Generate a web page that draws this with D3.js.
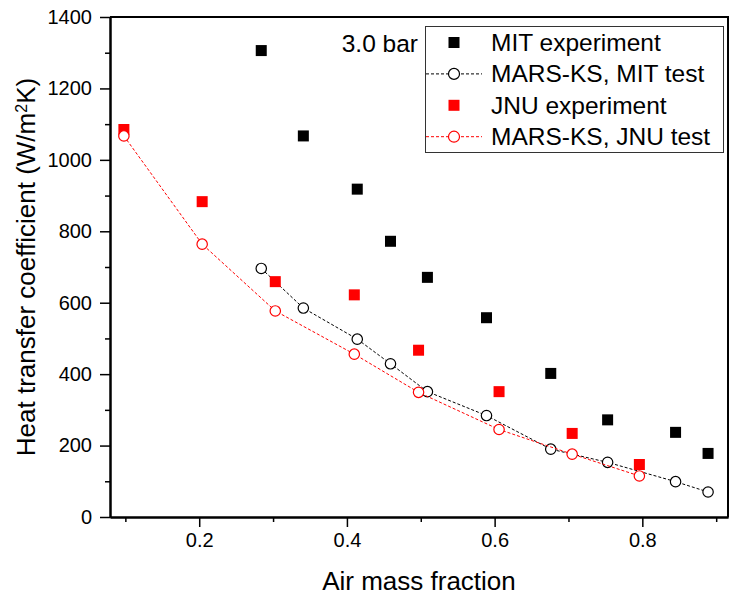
<!DOCTYPE html>
<html>
<head>
<meta charset="utf-8">
<script src="https://cdn.jsdelivr.net/npm/d3@7"></script>
<style>
  body { margin: 0; background: #fff; }
  svg { display: block; font-family: "Liberation Sans", Arial, sans-serif; }
</style>
</head>
<body>
<svg id="chart" width="731" height="600"></svg>
<script>
// MIT test points
const mitX = [0.284, 0.341, 0.414, 0.459, 0.509, 0.589, 0.676, 0.753, 0.845, 0.889];
const mitExp = [1306, 1067, 918, 772, 671, 558, 402, 272, 237, 178];
const mitMars = [696, 585, 498, 429, 351, 284, 190, 153, 99, 70];

// JNU test points
const jnuX = [0.098, 0.204, 0.303, 0.410, 0.497, 0.606, 0.705, 0.796];
const jnuExp = [1085, 883, 659, 622, 467, 351, 234, 147];
const jnuMars = [1067, 764, 577, 456, 349, 245, 176, 115];

const xMajor = [0.2, 0.4, 0.6, 0.8];
const xMinor = [0.1, 0.3, 0.5, 0.7, 0.9];
const yMajor = [0, 200, 400, 600, 800, 1000, 1200, 1400];
const yMinor = [100, 300, 500, 700, 900, 1100, 1300];

const legendLabels = ["MIT experiment", "MARS-KS, MIT test", "JNU experiment", "MARS-KS, JNU test"];

const svg = d3.select("#chart");

const x = d3.scaleLinear().domain([0.0792, 0.916]).range([110, 728]);
const y = d3.scaleLinear().domain([0, 1400]).range([517, 17]);

// frame (top and right edges)
svg.append("path")
  .attr("d", `M${x.range()[0]},${y(1400)}H${x.range()[1]}V${y(0)}`)
  .attr("fill", "none")
  .attr("stroke", "#000")
  .attr("stroke-width", 2);

// axes
function styleAxis(g) {
  g.attr("font-family", null).attr("font-size", null);
  g.select(".domain").attr("stroke-width", 2);
  g.selectAll(".tick line").attr("stroke-width", 1.5);
  g.selectAll("text").attr("fill", "#000").style("font-size", "20px");
}

svg.append("g")
  .attr("transform", `translate(0,${y(0)})`)
  .call(d3.axisBottom(x).tickValues(xMinor).tickSize(5).tickSizeOuter(0).tickFormat(""))
  .call(styleAxis);
svg.append("g")
  .attr("transform", `translate(0,${y(0)})`)
  .call(d3.axisBottom(x).tickValues(xMajor).tickSize(10).tickSizeOuter(0).tickPadding(6).tickFormat(d3.format(".1f")))
  .call(styleAxis);

svg.append("g")
  .attr("transform", `translate(${x.range()[0]},0)`)
  .call(d3.axisLeft(y).tickValues(yMinor).tickSize(5).tickSizeOuter(0).tickFormat(""))
  .call(styleAxis);
svg.append("g")
  .attr("transform", `translate(${x.range()[0]},0)`)
  .call(d3.axisLeft(y).tickValues(yMajor).tickSize(10).tickSizeOuter(0).tickPadding(8).tickFormat(d3.format("d")))
  .call(styleAxis);

// axis titles
svg.append("text")
  .attr("x", (x.range()[0] + x.range()[1]) / 2)
  .attr("y", 590)
  .attr("text-anchor", "middle")
  .style("font-size", "26px")
  .text("Air mass fraction");

const yTitle = svg.append("text")
  .attr("transform", `translate(35,${(y(0) + y(1400)) / 2}) rotate(-90)`)
  .attr("text-anchor", "middle")
  .style("font-size", "26px");
yTitle.append("tspan").text("Heat transfer coefficient (W/m");
yTitle.append("tspan").attr("baseline-shift", "super").style("font-size", "16px").text("2");
yTitle.append("tspan").text("K)");

// series
const line = d3.line().x(d => x(d[0])).y(d => y(d[1]));

function drawLine(xs, ys, color) {
  svg.append("path")
    .datum(d3.zip(xs, ys))
    .attr("d", line)
    .attr("fill", "none")
    .attr("stroke", color)
    .attr("stroke-width", 1)
    .attr("stroke-dasharray", "3,2");
}

function drawSquares(xs, ys, color) {
  svg.append("g").selectAll("rect")
    .data(d3.zip(xs, ys))
    .join("rect")
    .attr("x", d => x(d[0]) - 5.5)
    .attr("y", d => y(d[1]) - 5.5)
    .attr("width", 11)
    .attr("height", 11)
    .attr("fill", color);
}

function drawCircles(xs, ys, color) {
  svg.append("g").selectAll("circle")
    .data(d3.zip(xs, ys))
    .join("circle")
    .attr("cx", d => x(d[0]))
    .attr("cy", d => y(d[1]))
    .attr("r", 5.2)
    .attr("fill", "#fff")
    .attr("stroke", color)
    .attr("stroke-width", 1.2);
}

drawSquares(mitX, mitExp, "#000");
drawLine(mitX, mitMars, "#000");
drawCircles(mitX, mitMars, "#000");
drawSquares(jnuX, jnuExp, "#f00");
drawLine(jnuX, jnuMars, "#f00");
drawCircles(jnuX, jnuMars, "#f00");

// legend
const legend = svg.append("g");
legend.append("rect")
  .attr("x", 425.5).attr("y", 26.5)
  .attr("width", 298).attr("height", 126)
  .attr("fill", "#fff")
  .attr("stroke", "#333")
  .attr("stroke-width", 1);

const kinds = ["square", "circle", "square", "circle"];
const colors = ["#000", "#000", "#f00", "#f00"];
legendLabels.forEach((label, i) => {
  const cy = 42.5 + i * 31.4;
  const g = legend.append("g");
  if (kinds[i] === "circle") {
    g.append("line")
      .attr("x1", 426).attr("x2", 482)
      .attr("y1", cy).attr("y2", cy)
      .attr("stroke", colors[i])
      .attr("stroke-width", 1)
      .attr("stroke-dasharray", "3,2");
    g.append("circle")
      .attr("cx", 454).attr("cy", cy).attr("r", 5.5)
      .attr("fill", "#fff")
      .attr("stroke", colors[i])
      .attr("stroke-width", 1.2);
  } else {
    g.append("rect")
      .attr("x", 448.5).attr("y", cy - 5.5)
      .attr("width", 11).attr("height", 11)
      .attr("fill", colors[i]);
  }
  g.append("text")
    .attr("x", 491)
    .attr("y", cy + 8.5)
    .style("font-size", "24.5px")
    .text(label);
});

svg.append("text")
  .attr("x", 418)
  .attr("y", 51.5)
  .attr("text-anchor", "end")
  .style("font-size", "24.5px")
  .text("3.0 bar");
</script>
</body>
</html>
